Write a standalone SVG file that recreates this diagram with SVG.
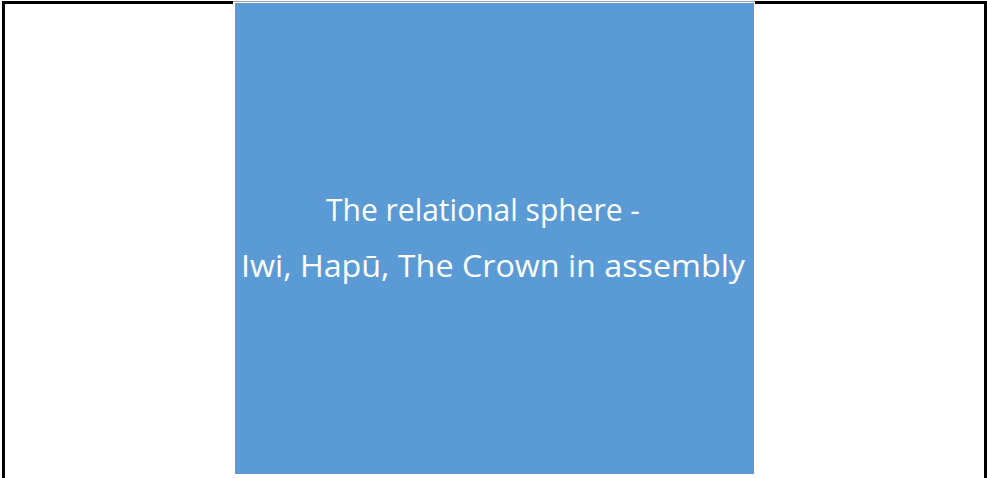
<svg xmlns="http://www.w3.org/2000/svg" width="987" height="478" viewBox="0 0 987 478">
<style>
.frame{fill:none;stroke:#000;stroke-width:3}
.box{fill:#5B9BD5}
.lbl{font-family:"Open Sans","Noto Sans",sans-serif;font-size:31px;fill:#fff}
</style>
<rect x="0" y="0" width="987" height="478" fill="#fff"/>
<g id="frame">
<path class="frame" d="M3.5 480 V2.5 H233 M755 2.5 H985.5 V480"/>
<line x1="233" y1="1.5" x2="755" y2="1.5" stroke="#a0a0a0" stroke-width="1"/>
</g>
<g id="sphere">
<rect class="box" x="235" y="3" width="519" height="471"/>
<text class="lbl" x="326" y="221" textLength="314" lengthAdjust="spacingAndGlyphs">The relational sphere -</text>
<text class="lbl" x="241" y="277" textLength="504" lengthAdjust="spacingAndGlyphs">Iwi, Hapū, The Crown in assembly</text>
</g>
<g id="connectors"></g>
</svg>
